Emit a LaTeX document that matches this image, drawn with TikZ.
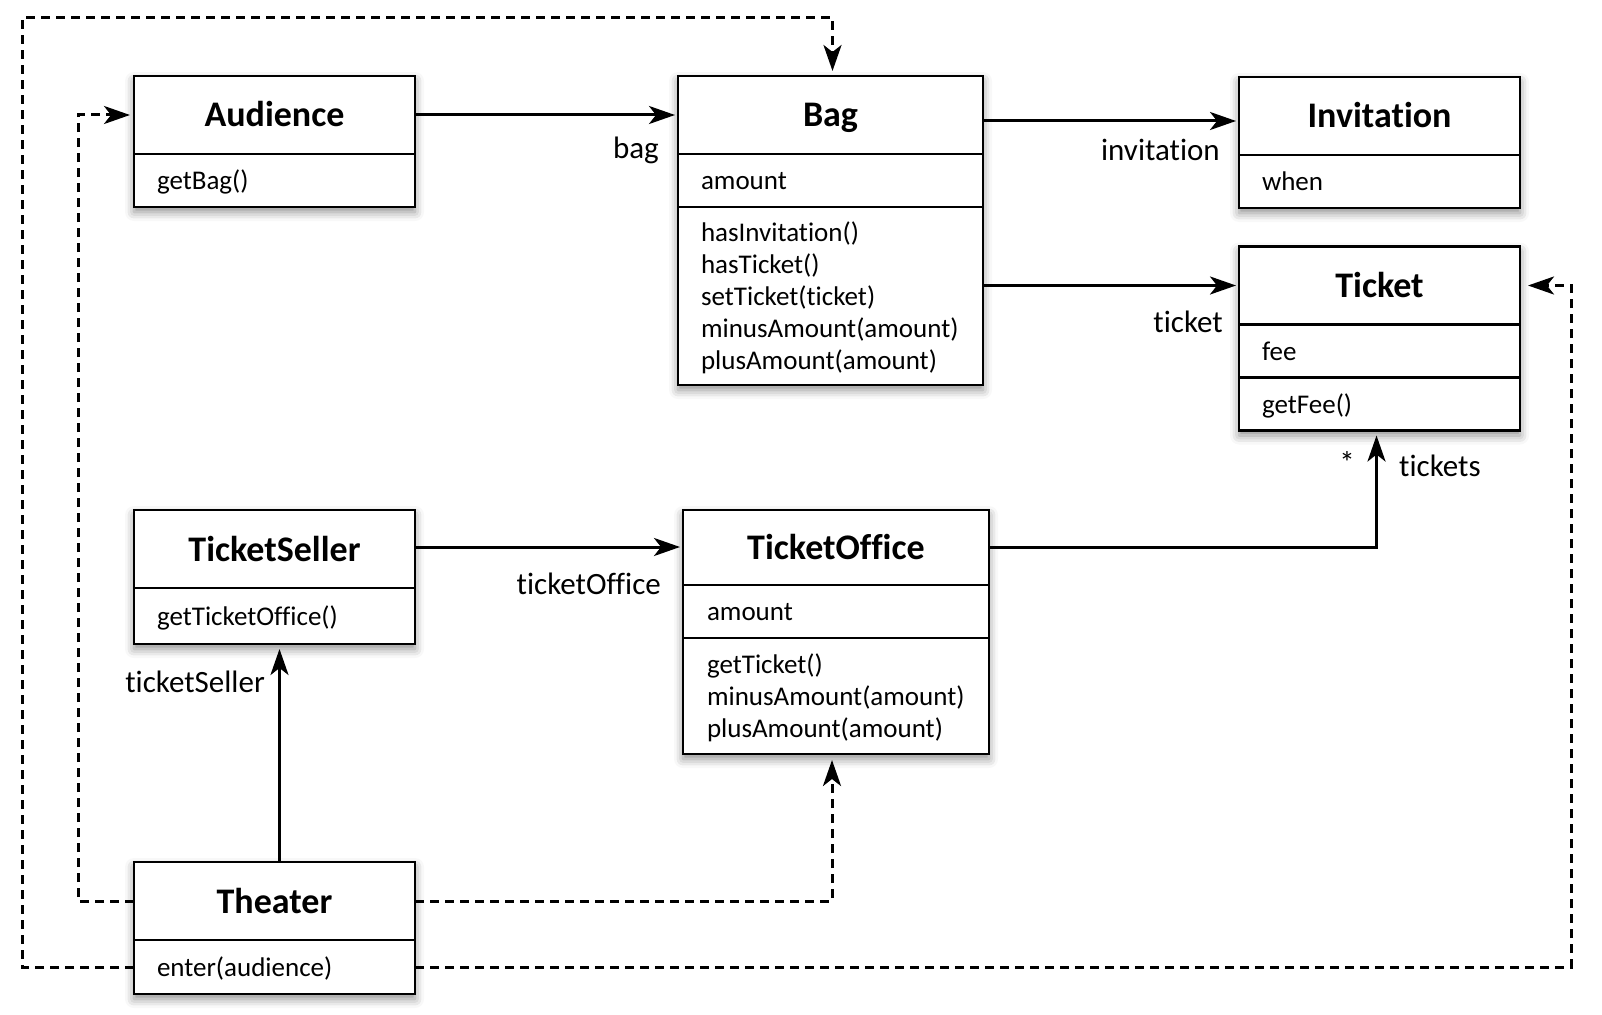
\documentclass[tikz,border=0pt]{standalone}
\usepackage{fontspec}
\setmainfont{Carlito}[Ligatures={NoCommon}]
\usetikzlibrary{arrows.meta, positioning, fit, backgrounds, shadows.blur}
\newcommand{\clsfont}{\bfseries\fontsize{36}{42}\selectfont}
\newcommand{\memfont}{\fontsize{27}{32}\selectfont}
\newcommand{\lblfont}{\fontsize{31}{36}\selectfont}
\newcommand{\memtop}{\rule{0pt}{25.4pt}}
\newcommand{\membot}{\rule[-6.6pt]{0pt}{6.6pt}}
\tikzset{
  clshead/.style={rectangle, draw=black, fill=white, line width=2.8pt,
    minimum width=281pt, minimum height=78pt, inner sep=0pt, outer sep=0pt,
    text height=30pt, text depth=6pt, font=\clsfont},
  clsbody/.style={rectangle, draw=black, fill=white, line width=2.8pt,
    text width=235pt, inner xsep=23pt, inner ysep=0pt, outer sep=0pt,
    minimum height=53pt, align=left, font=\memfont,
    execute at begin node=\memtop, execute at end node=\membot},
  clsshadow/.style={rectangle, fill=white, inner sep=0pt, outer sep=0pt,
    blur shadow={shadow xshift=0pt, shadow yshift=-5pt,
      shadow blur radius=9pt, shadow opacity=45}},
  assoc/.style={-{Stealth[length=26pt, width=18pt, inset=7pt]}, line width=3pt},
  dep/.style={assoc, dash pattern=on 9pt off 6pt},
  lbl/.style={font=\lblfont, inner sep=0pt}
}

\begin{document}
\begin{tikzpicture}[x=1pt, y=-1pt]
  \useasboundingbox (0,0) rectangle (1602,1014);

  % classes
  \node[clshead] (aud) at (274.5,115) {Audience};
  \node[clsbody, below=0pt of aud] (audm) {getBag()};

  \node[clshead, minimum width=305pt] (bag) at (830.5,115) {Bag};
  \node[clsbody, text width=259pt, below=0pt of bag] (baga) {amount};
  \node[clsbody, text width=259pt, minimum height=178pt, below=0pt of baga] (bagm)
    {hasInvitation()\\hasTicket()\\setTicket(ticket)\\minusAmount(amount)\\plusAmount(amount)};

  \node[clshead] (inv) at (1379.5,116) {Invitation};
  \node[clsbody, below=0pt of inv] (inva) {when};

  \node[clshead] (tkt) at (1379.5,285.5) {Ticket};
  \node[clsbody, below=0pt of tkt] (tkta) {fee};
  \node[clsbody, below=0pt of tkta] (tktm) {getFee()};

  \node[clshead] (seller) at (274.5,549) {TicketSeller};
  \node[clsbody, minimum height=56pt, below=0pt of seller] (sellerm) {getTicketOffice()};

  \node[clshead, minimum width=306pt, minimum height=75pt] (office) at (836,547.5) {TicketOffice};
  \node[clsbody, text width=258pt, inner xsep=24pt, below=0pt of office] (officea) {amount};
  \node[clsbody, text width=258pt, inner xsep=24pt, minimum height=116pt, below=0pt of officea] (officem)
    {getTicket()\\minusAmount(amount)\\plusAmount(amount)};

  \node[clshead] (thr) at (274.5,901) {Theater};
  \node[clsbody, minimum height=54pt, below=0pt of thr] (thrm) {enter(audience)};

  % shadows
  \begin{scope}[on background layer]
    \node[clsshadow, fit=(aud)(audm)] (audsh) {};
    \node[clsshadow, fit=(bag)(bagm)] (bagsh) {};
    \node[clsshadow, fit=(inv)(inva)] (invsh) {};
    \node[clsshadow, fit=(tkt)(tktm)] (tktsh) {};
    \node[clsshadow, fit=(seller)(sellerm)] (sellersh) {};
    \node[clsshadow, fit=(office)(officem)] (officesh) {};
    \node[clsshadow, fit=(thr)(thrm)] (thrsh) {};
  \end{scope}

  % associations
  \draw[assoc, shorten >=3pt] (aud) -- (bag);
  \draw[assoc, shorten >=3pt] ([yshift=-6pt]bag.east) -- ([yshift=-6pt]bag.east -| inv.west);
  \draw[assoc, shorten >=3pt] (bagm.east |- tkt.west) -- (tkt.west);
  \draw[assoc, shorten >=3pt] ([yshift=2pt]seller.east) -- ([yshift=2pt]seller.east -| office.west);
  \draw[assoc, shorten >=5pt] (office.east) -| ([xshift=-3pt]tktm.south);
  \draw[assoc, shorten >=5pt] ([xshift=5pt]thr.north) -- ([xshift=5pt]sellerm.south);

  % dependencies
  \coordinate (topleft) at (22,18);
  \draw[dep, shorten >=4pt] (thr.west) -| ([xshift=-56pt]aud.west) -- (aud.west);
  \draw[dep, shorten >=6pt] (thr.east) -| ([xshift=-4pt]officem.south);
  \draw[dep, shorten >=5pt] (thrm.west) -| (topleft) -| ([xshift=2pt]bag.north);
  \draw[dep, shorten >=8pt] (thrm.east) -| ([xshift=51pt]tkt.east) -- (tkt.east);

  % role names
  \node[lbl, anchor=base east] (lbag) at (659,158) {bag};
  \node[lbl, anchor=base east] (linv) at (1220,160) {invitation};
  \node[lbl, anchor=base east] (ltkt) at (1223,332) {ticket};
  \node[lbl, anchor=base east] (loffice) at (661,594) {ticketOffice};
  \node[lbl, anchor=base east] (lseller) at (265,692) {ticketSeller};
  \node[lbl] (lmany) at (1347,462) {*};
  \node[lbl, anchor=base west] (ltkts) at (1399,476) {tickets};
\end{tikzpicture}
\end{document}
